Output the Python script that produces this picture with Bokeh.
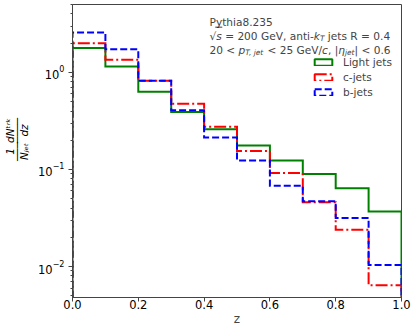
import math
from bokeh.plotting import figure
from bokeh.models import (Label, Legend, LegendItem, BoxAnnotation, FixedTicker,
                          PrintfTickFormatter, Range1d, LinearAxis, LinearScale)
from bokeh.embed import file_html
from bokeh.resources import INLINE

# ---------------- data ----------------
bin_edges = [0.0, 0.1, 0.2, 0.3, 0.4, 0.5, 0.6, 0.7, 0.8, 0.9, 1.0]
light_jets = [1.78, 1.15, 0.63, 0.39, 0.26, 0.177, 0.124, 0.090, 0.064, 0.037]
c_jets = [2.00, 1.35, 0.82, 0.475, 0.275, 0.155, 0.092, 0.046, 0.024, 0.0064]
b_jets = [2.58, 1.73, 0.82, 0.406, 0.214, 0.124, 0.068, 0.047, 0.0317, 0.0104]
series_names = ["Light jets", "c-jets", "b-jets"]
x_ticks = [0.0, 0.2, 0.4, 0.6, 0.8, 1.0]
info_lines = ["Pythia8.235"]
ylabel_parts = ["dNᵗʳᵏ\n────\ndz", "1\n───\nNⱼₑₜ"]

FONT = "DejaVu Sans"
W, H = 415, 330
BL, BR, BT, BB = 72, 14, 4, 33
PX0, PY1 = BL, H - BB   # frame left / bottom in picture pixels
FRAME_H = H - BT - BB


def fx(X):
    return X - PX0


def fy(Y):
    return PY1 - Y


p = figure(width=W, height=H, output_backend="svg", toolbar_location=None,
           y_axis_type="log", x_range=Range1d(0, 1), y_range=Range1d(0.0048, 5.0),
           min_border_left=BL, min_border_right=BR, min_border_top=BT,
           min_border_bottom=BB, x_axis_label="z")
p.grid.visible = False
p.outline_line_color = "#444444"
p.outline_line_width = 1
p.background_fill_color = "white"
p.border_fill_color = "white"

BOTTOM = 1e-5


def step_path(vals):
    xs = [bin_edges[0]]
    ys = [BOTTOM]
    for i, v in enumerate(vals):
        xs += [bin_edges[i], bin_edges[i + 1]]
        ys += [v, v]
    xs.append(bin_edges[-1])
    ys.append(BOTTOM)
    return xs, ys


styles = [
    dict(color="#008000", dash="solid"),
    dict(color="#ff0000", dash="12 3 2 3"),
    dict(color="#0000ff", dash="7 3"),
]
nan = float("nan")
items = []
for name, vals, st in zip(series_names, [light_jets, c_jets, b_jets], styles):
    xs, ys = step_path(vals)
    p.line(xs, ys, line_color=st["color"], line_width=2, line_dash=st["dash"],
           line_join="miter", line_cap="butt")
    proxy = p.rect(x=[nan], y=[nan], width=[nan], height=[nan], fill_alpha=0,
                   line_color=st["color"], line_width=2, line_dash=st["dash"])
    items.append(LegendItem(label=name, renderers=[proxy]))

legend = Legend(items=items, location=(240, 199), padding=0, margin=0,
                spacing=3, glyph_width=22, glyph_height=8, label_height=12,
                label_standoff=9, label_text_font=FONT,
                label_text_font_size="10.6px", border_line_color=None,
                background_fill_alpha=0)
p.add_layout(legend, "center")

# ---------------- axes ----------------
ax = p.xaxis[0]
ax.ticker = FixedTicker(ticks=x_ticks)
ax.formatter = PrintfTickFormatter(format="%.1f")
ay = p.yaxis[0]
for a in (ax, ay):
    a.axis_line_color = "#444444"
    a.major_tick_line_color = "#444444"
    a.minor_tick_line_color = "#444444"
    a.major_tick_out = 4
    a.major_tick_in = 0
    a.minor_tick_out = 2
    a.minor_tick_in = 0
    a.major_label_text_font = FONT
    a.major_label_text_font_size = "11.5px"
    a.major_label_text_color = "black"
ax.minor_tick_line_color = None
ax.major_label_standoff = -2
ax.axis_label_standoff = 0
ax.axis_label_text_font = FONT
ax.axis_label_text_font_size = "12px"
ax.axis_label_text_font_style = "normal"
ay.major_label_standoff = 4

# ---------------- y axis title: 1/N_jet dN^trk/dz, as two stacked fractions ----
p.extra_y_ranges = {"px": Range1d(0, FRAME_H)}
p.extra_y_scales = {"px": LinearScale()}
frac_pos = [fy(130), fy(151)]
yt = LinearAxis(y_range_name="px", ticker=FixedTicker(ticks=frac_pos),
                major_label_overrides={frac_pos[0]: ylabel_parts[0],
                                       frac_pos[1]: ylabel_parts[1]},
                major_label_orientation="vertical",
                axis_line_color=None, major_tick_line_color=None,
                minor_tick_line_color=None, major_tick_out=0, major_tick_in=0,
                minor_tick_out=0, minor_tick_in=0, major_label_standoff=6,
                major_label_text_font=FONT, major_label_text_font_size="10.5px",
                major_label_text_font_style="italic", major_label_text_color="black",
                major_label_text_line_height=0.55)
p.add_layout(yt, "left")

# ---------------- info text ----------------
ADV = {' ': 651, '.': 651, ',': 651, '=': 1716, '<': 1716, '|': 690, '/': 690,
       '-': 739, 'P': 1235, 'y': 1212, 't': 803, 'h': 1298, 'i': 569, 'a': 1255,
       'G': 1577, 'e': 1260, 'V': 1401, 'n': 1298, 'k': 1186, 'j': 569, 's': 1067,
       'R': 1423, 'c': 1126, 'p': 1300, 'T': 1251, 'N': 1532, 'd': 1300, 'r': 842,
       'z': 1075, '√': 1303, 'η': 1300}


def tw(s, size):
    return sum(ADV.get(ch, 1303) for ch in s) / 2048.0 * size


FS = 10.6
SS = FS * 0.7
X0 = 209


def text_line(pieces, base):
    x = X0
    for txt, ital, sub in pieces:
        size = SS if sub else FS
        yb = base + (2.4 if sub else 0)
        lead = len(txt) - len(txt.lstrip(" "))
        x += tw(" " * lead, size)
        core = txt.strip(" ")
        p.add_layout(Label(x=fx(x), y=fy(yb), x_units="screen", y_units="screen",
                           text=core, text_font=FONT, text_font_size=f"{size:.2f}px",
                           text_font_style="italic" if ital else "normal",
                           text_align="left", text_baseline="alphabetic"))
        if core == "s" and ital:
            p.add_layout(BoxAnnotation(left=fx(x - 1), right=fx(x + tw(core, size) + 0.5),
                                       top=fy(base - 9.3), bottom=fy(base - 8.5),
                                       left_units="screen", right_units="screen",
                                       top_units="screen", bottom_units="screen",
                                       fill_color="black", fill_alpha=1, line_color=None))
        x += tw(txt.lstrip(" "), size)


text_line([(info_lines[0], False, False)], 21.5)
text_line([("√", False, False), ("s", True, False), (" = 200 GeV, anti-", False, False),
           ("k", True, False), ("T", True, True), (" jets R = 0.4", False, False)], 35.5)
text_line([("20 < ", False, False), ("p", True, False), ("T, jet", True, True),
           (" < 25 GeV/", False, False), ("c", True, False), (", |", False, False),
           ("η", True, False), ("jet", True, True), ("| < 0.6", False, False)], 49.5)

open("out.html", "w").write(file_html(p, INLINE))
